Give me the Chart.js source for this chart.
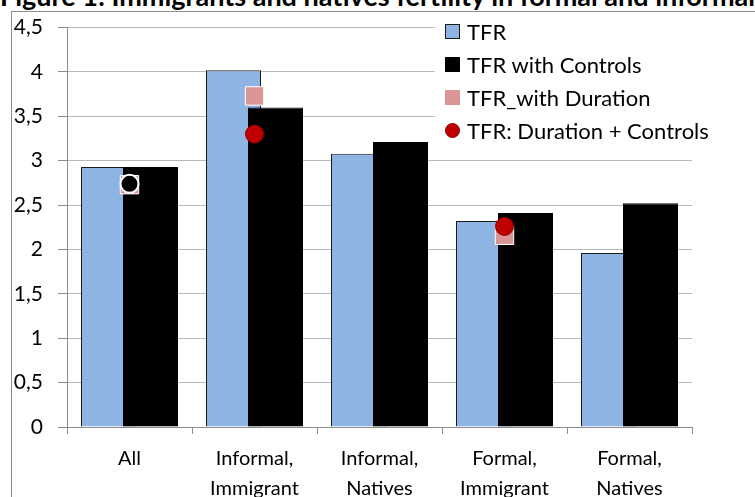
<!DOCTYPE html>
<html>
<head>
<meta charset="utf-8">
<script src="https://cdn.jsdelivr.net/npm/chart.js@4/dist/chart.umd.min.js"></script>
<style>
  html, body { margin: 0; padding: 0; background: #fff; }
  body { width: 755px; height: 497px; position: relative; overflow: hidden; font-family: Lato, sans-serif; }
  #title { position: absolute; left: 0; top: -18px; font-size: 27px; line-height: 27px; font-weight: bold; white-space: nowrap; color: #000; }
  #frame { position: absolute; left: 11px; top: 11px; width: 900px; height: 700px; border: 1px solid #8c8c8c; }
  #wrap { position: absolute; left: 0; top: 0; width: 755px; height: 497px; }
  #legend { position: absolute; left: 435px; top: 15px; width: 300px; height: 129px; background: #fff; }
  .item { position: absolute; left: 10px; height: 33px; display: flex; align-items: center; font-size: 22px; color: #000; white-space: nowrap; }
  .mark { width: 15px; height: 15px; margin-right: 7px; box-sizing: border-box; }
</style>
</head>
<body>
<div id="title">Figure 1: Immigrants and natives fertility in formal and informal unions</div>
<div id="frame"></div>
<div id="wrap"><canvas id="chart" width="755" height="497"></canvas></div>
<div id="legend"></div>
<script>
const categories = [['All'], ['Informal,', 'Immigrant'], ['Informal,', 'Natives'], ['Formal,', 'Immigrant'], ['Formal,', 'Natives']]
const seriesNames = ['TFR', 'TFR with Controls', 'TFR_with Duration', 'TFR: Duration + Controls']
const tfr = [2.93, 4.02, 3.08, 2.32, 1.96]
const tfrControls = [2.93, 3.60, 3.21, 2.41, 2.52]
const tfrDuration = [2.73, 3.73, null, 2.16, null]
const tfrDurationControls = [2.74, 3.30, null, 2.26, null]
const yTicks = [0, 0.5, 1, 1.5, 2, 2.5, 3, 3.5, 4, 4.5]

Chart.defaults.font.family = 'Lato'
Chart.defaults.font.size = 20
Chart.defaults.color = '#000'

const axisGray = '#8c8c8c'

// blue bars sit left, black bars overlap them on top
const layering = {
  id: 'layering',
  beforeDatasetDraw(chart, args) {
    if (args.index === 1) return false
  },
  afterDatasetDraw(chart, args) {
    if (args.index === 0) chart.getDatasetMeta(1).controller.draw()
  }
}

new Chart('chart', {
  type: 'bar',
  data: {
    labels: categories,
    datasets: [
      {
        label: seriesNames[0],
        data: tfr,
        backgroundColor: '#8eb4e3',
        borderColor: '#1a1a1a',
        borderWidth: 1,
        barPercentage: 1.31,
        categoryPercentage: 0.672,
        order: 2
      },
      {
        label: seriesNames[1],
        data: tfrControls,
        backgroundColor: '#000',
        borderColor: '#000',
        borderWidth: 1,
        barPercentage: 1.31,
        categoryPercentage: 0.672,
        order: 3
      },
      {
        label: seriesNames[2],
        type: 'line',
        data: tfrDuration,
        showLine: false,
        pointStyle: 'rect',
        pointRadius: 13,
        pointBackgroundColor: '#d99694',
        pointBorderColor: '#fff',
        pointBorderWidth: 1,
        order: 1
      },
      {
        label: seriesNames[3],
        type: 'line',
        data: tfrDurationControls,
        showLine: false,
        pointStyle: 'circle',
        pointRadius: 9,
        pointBackgroundColor: ['#000', '#c00000', '#c00000', '#c00000', '#c00000'],
        pointBorderColor: ['#fff', '#8a0000', '#8a0000', '#8a0000', '#8a0000'],
        pointBorderWidth: [2, 1, 1, 1, 1],
        order: 0
      }
    ]
  },
  options: {
    responsive: false,
    animation: false,
    layout: { padding: { left: 12, top: 26, right: 63, bottom: 0 } },
    plugins: { legend: { display: false }, tooltip: { enabled: false } },
    scales: {
      x: {
        offset: true,
        grid: { drawOnChartArea: false, color: axisGray, tickLength: 7, offset: true },
        border: { color: axisGray },
        ticks: { padding: 10, font: { size: 20, lineHeight: 1.5 }, maxRotation: 0, autoSkip: false },
        afterFit: s => { s.height = 70 }
      },
      y: {
        min: 0,
        max: 4.5,
        afterBuildTicks: s => { s.ticks = yTicks.map(v => ({ value: v })) },
        grid: { color: '#b8b8b8', tickColor: axisGray, tickLength: 9 },
        border: { color: axisGray },
        ticks: { padding: 15, font: { size: 21 }, callback: v => String(v).replace('.', ',') },
        afterFit: s => { s.width = 55 }
      }
    }
  },
  plugins: [layering]
})

// legend built from the series names
const legendMarks = [
  'background:#8eb4e3;border:1.5px solid #1a1a1a;',
  'background:#000;',
  'background:#d99694;',
  'background:#c00000;border-radius:50%;border:1px solid #8a0000;'
]
const legend = document.getElementById('legend')
seriesNames.forEach((name, i) => {
  const item = document.createElement('div')
  item.className = 'item'
  item.style.top = (i * 33) + 'px'
  item.innerHTML = '<span class="mark" style="' + legendMarks[i] + '"></span><span>' + name + '</span>'
  legend.appendChild(item)
})
</script>
</body>
</html>
